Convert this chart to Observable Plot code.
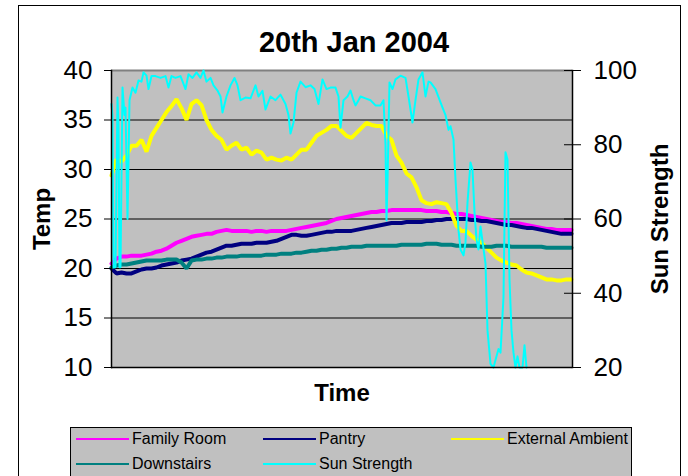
<!DOCTYPE html>
<html>
<head>
<meta charset="utf-8">
<script src="https://cdn.jsdelivr.net/npm/d3@7"></script>
<script src="https://cdn.jsdelivr.net/npm/@observablehq/plot@0.6"></script>
<style>
  html, body { margin: 0; padding: 0; background: #fff; }
  body { position: relative; width: 688px; height: 476px; overflow: hidden; font-family: "Liberation Sans", Arial, sans-serif; }
  #frame { position: absolute; left: 18px; top: 5px; width: 663px; height: 490px; border: 1px solid #000; box-sizing: border-box; }
  #title { position: absolute; left: 0; width: 708px; top: 26px; line-height: 32px; font-size: 29px; font-weight: bold; text-align: center; color: #000; }
  #chart { position: absolute; left: 0; top: 60px; }
  #legend { position: absolute; left: 70px; top: 427px; width: 562px; height: 70px; border: 1px solid #000; background: #c0c0c0; box-sizing: border-box; }
  .item { position: absolute; height: 20px; }
  .item .sw { position: absolute; left: 0; top: 9px; width: 53px; height: 2px; }
  .item .lb { position: absolute; left: 56px; top: 0; line-height: 20px; font-size: 16px; white-space: nowrap; color: #000; }
</style>
</head>
<body>
<div id="frame"></div>
<div id="title">20th Jan 2004</div>
<div id="chart"></div>
<div id="legend"></div>
<script>
// ---- data ----
const seriesNames = ["Family Room", "Pantry", "External Ambient", "Downstairs", "Sun Strength"];
const seriesColors = ["#ff00ff", "#000080", "#ffff00", "#008080", "#00ffff"];
const tempTicks = [10, 15, 20, 25, 30, 35, 40];
const sunTicks = [20, 40, 60, 80, 100];

// sample index (regular logging interval) for the temperature series
const tempTime = d3.range(0, 461, 5);

const familyRoom = [
  20.5,21.0,21.2,21.2,21.3,21.3,21.3,21.4,21.5,21.7,
  21.8,22.0,22.3,22.6,22.8,23.0,23.2,23.3,23.4,23.5,
  23.5,23.7,23.8,23.9,23.8,23.8,23.8,23.8,23.7,23.8,
  23.8,23.7,23.8,23.8,23.8,23.8,23.9,24.0,24.1,24.2,
  24.3,24.4,24.5,24.6,24.8,25.0,25.1,25.2,25.3,25.4,
  25.5,25.6,25.7,25.7,25.8,25.8,25.9,25.9,25.9,25.9,
  25.9,25.9,25.9,25.8,25.8,25.8,25.7,25.7,25.6,25.5,
  25.5,25.4,25.3,25.2,25.1,25.0,24.9,24.8,24.7,24.7,
  24.6,24.6,24.5,24.4,24.3,24.2,24.1,24.0,24.0,23.9,
  23.9,23.9,23.9
];
const pantry = [
  20.0,19.5,19.6,19.5,19.5,19.7,19.9,20.0,20.0,20.1,
  20.3,20.4,20.5,20.6,20.8,20.9,21.0,21.2,21.4,21.6,
  21.7,21.9,22.1,22.3,22.3,22.4,22.5,22.5,22.5,22.6,
  22.6,22.6,22.7,22.8,23.0,23.2,23.4,23.4,23.3,23.3,
  23.4,23.5,23.6,23.7,23.7,23.8,23.8,23.8,23.8,23.9,
  24.0,24.1,24.2,24.3,24.4,24.5,24.6,24.6,24.6,24.7,
  24.7,24.7,24.7,24.8,24.8,24.9,24.9,25.0,25.0,25.0,
  25.0,25.0,24.9,24.9,24.8,24.8,24.7,24.6,24.5,24.4,
  24.4,24.3,24.2,24.1,24.1,24.0,23.9,23.8,23.7,23.6,
  23.5,23.5,23.5
];
const externalAmbient = [
  29.4,31.0,30.8,31.4,32.4,32.4,33.0,31.8,33.4,34.2,
  35.0,35.8,36.4,37.1,36.2,35.0,36.6,37.0,36.5,35.0,
  34.0,33.4,33.0,32.0,32.4,32.7,32.0,32.2,31.5,31.9,
  31.7,31.0,31.2,31.0,30.9,31.2,31.0,31.5,32.0,32.0,
  32.7,33.4,33.7,34.0,34.4,34.4,33.9,33.4,33.2,33.7,
  34.2,34.7,34.5,34.4,34.4,33.4,33.0,31.4,30.7,29.6,
  29.2,28.2,26.9,26.6,26.5,26.7,26.6,26.5,25.6,24.3,
  23.8,23.8,23.3,22.9,22.6,22.1,21.6,21.1,20.8,20.6,
  20.4,20.3,19.9,19.6,19.5,19.3,19.1,18.9,18.9,18.8,
  18.8,18.9,18.9
];
const downstairs = [
  20.1,20.3,20.4,20.4,20.5,20.6,20.7,20.8,20.8,20.8,
  20.8,20.9,20.9,20.9,20.6,20.0,20.8,20.9,20.9,21.0,
  21.0,21.1,21.1,21.2,21.2,21.2,21.3,21.3,21.3,21.3,
  21.3,21.4,21.4,21.4,21.5,21.5,21.5,21.6,21.6,21.7,
  21.8,21.8,21.9,21.9,22.0,22.0,22.1,22.1,22.2,22.2,
  22.2,22.3,22.3,22.3,22.3,22.3,22.3,22.3,22.4,22.4,
  22.4,22.4,22.4,22.5,22.5,22.5,22.4,22.4,22.4,22.3,
  22.3,22.3,22.3,22.3,22.2,22.2,22.2,22.3,22.3,22.3,
  22.2,22.2,22.2,22.2,22.2,22.2,22.2,22.1,22.1,22.1,
  22.1,22.1,22.1
];
// sun strength is logged at its own (irregular) sample indices
const sunTime = [
  0,1,2,4,6,7,8,9,11,13,14,16,18,21,24,27,30,32,35,37,
  40,44,49,54,57,60,64,69,74,77,81,85,89,92,95,99,102,106,109,111,
  115,119,123,126,129,134,139,144,147,151,154,159,164,169,174,177,179,182,185,189,
  194,199,203,207,211,215,219,224,227,229,232,236,239,242,244,247,249,254,259,264,
  269,272,274,275,276,278,281,284,289,294,297,301,304,307,311,314,317,319,324,329,
  334,337,339,342,344,347,349,352,354,356,359,361,363,365,367,369,371,374,376,379,
  382,385,387,389,392,394,396,398,400,402,404,406,408,411,413,415
];
const sunStrength = [
  91,88,47,47,92.7,85,47,47,95.4,88,90,60,92,95.4,94,97.3,97,99.5,98.6,95,
  98.5,98.5,98,98.5,95.4,98.5,98,98.5,95,99,98,99.5,98,100,97,98,96,94.6,93,88.7,
  93,96,98,96,92,92.7,92.5,96,93,94.5,89.5,93,92,93.5,91,88,83,86,94,97,
  95.5,96,95,91,97.6,95,95.4,95.4,93,84.6,92,93,94.6,92,90.6,92,93,92.5,92,90.6,
  90.6,92,80,59.6,70,96.8,95,97.6,98.6,98,93,86,92,97.6,99.5,93,97,96.8,95,91.4,
  88,84,85,81.4,70.6,57,51.8,50.2,53.7,64.4,75.2,73.3,61.8,54.5,51.8,58,54,48,30,21,
  20,23,25,24,39,78,76,43.7,30,24,20,23,20,20,26,20
];

// ---- build ----
const tempDomain = [10, 40];
const sunDomain = [20, 100];
const sunToTemp = s => tempDomain[0] + (s - sunDomain[0]) * (tempDomain[1] - tempDomain[0]) / (sunDomain[1] - sunDomain[0]);
const tempToSun = t => Math.round(sunDomain[0] + (t - tempDomain[0]) * (sunDomain[1] - sunDomain[0]) / (tempDomain[1] - tempDomain[0]));

const rows = (time, vals) => time.map((t, i) => ({t, v: vals[i]}));
const tempSeries = [familyRoom, pantry, externalAmbient, downstairs];
const sunRows = sunTime.map((t, i) => ({t, v: sunToTemp(sunStrength[i])}));

const lineMarks = tempSeries.map((vals, k) =>
  Plot.line(rows(tempTime, vals), {x: "t", y: "v", stroke: seriesColors[k], strokeWidth: 4, strokeLinejoin: "miter"})
);

const chart = Plot.plot({
  width: 688,
  height: 360,
  marginLeft: 111,
  marginRight: 116,
  marginTop: 10,
  marginBottom: 53,
  x: {domain: [0, 461], axis: null},
  y: {domain: tempDomain, axis: null},
  style: {fontFamily: "'Liberation Sans', Arial, sans-serif", background: "none", color: "#000", overflow: "visible"},
  marks: [
    Plot.frame({fill: "#c0c0c0", stroke: null}),
    Plot.ruleY(tempTicks.slice(1, -1), {stroke: "#000", strokeWidth: 1}),
    Plot.ruleY([tempDomain[1]], {stroke: "#808080", strokeWidth: 2}),
    ...lineMarks,
    Plot.line(sunRows, {x: "t", y: "v", stroke: seriesColors[4], strokeWidth: 2}),
    Plot.ruleY([tempDomain[0]], {stroke: "#000", strokeWidth: 1.5}),
    Plot.frame({anchor: "left", stroke: "#000", strokeWidth: 1.5}),
    Plot.frame({anchor: "right", stroke: "#000", strokeWidth: 1.5}),
    Plot.ruleY(sunTicks.map(sunToTemp), {stroke: "#000", insetLeft: 453}),
    Plot.axisY(tempTicks, {anchor: "left", label: null, tickSize: 7, tickPadding: 12, fontSize: 26, stroke: "#000"}),
    Plot.axisY(sunTicks.map(sunToTemp), {anchor: "right", label: null, tickSize: 8, tickPadding: 13, fontSize: 26, tickFormat: tempToSun, stroke: "#000"}),
    Plot.text(["Temp"], {frameAnchor: "left", dx: -69, rotate: -90, textAnchor: "middle", lineAnchor: "middle", fontSize: 24, fontWeight: "bold", fill: "#000"}),
    Plot.text(["Sun Strength"], {frameAnchor: "right", dx: 88, rotate: -90, textAnchor: "middle", lineAnchor: "middle", fontSize: 24, fontWeight: "bold", fill: "#000"}),
    Plot.text(["Time"], {frameAnchor: "bottom", dy: 26, textAnchor: "middle", lineAnchor: "middle", fontSize: 24, fontWeight: "bold", fill: "#000"})
  ]
});
document.getElementById("chart").appendChild(chart);

// ---- legend ----
const legendPos = [[5, 1], [192, 1], [380, 1], [5, 26], [192, 26]];
const legend = document.getElementById("legend");
seriesNames.forEach((name, i) => {
  const it = document.createElement("div");
  it.className = "item";
  it.style.left = legendPos[i][0] + "px";
  it.style.top = legendPos[i][1] + "px";
  it.innerHTML = `<div class="sw" style="background:${seriesColors[i]}"></div><div class="lb">${name}</div>`;
  legend.appendChild(it);
});
</script>
</body>
</html>
